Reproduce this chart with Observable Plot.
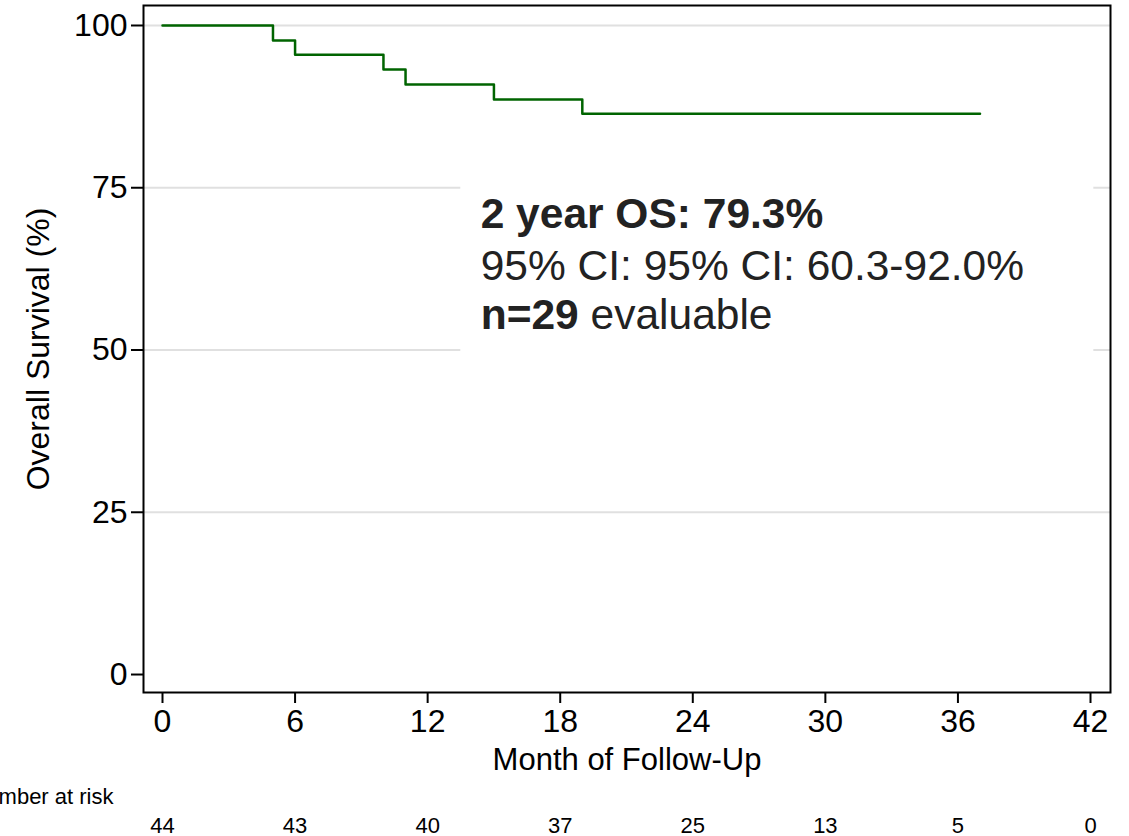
<!DOCTYPE html>
<html>
<head>
<meta charset="utf-8">
<script src="https://cdn.jsdelivr.net/npm/d3@7"></script>
<script src="https://cdn.jsdelivr.net/npm/@observablehq/plot@0.6"></script>
<style>
  html, body { margin: 0; padding: 0; background: #fff; }
  svg { display: block; }
</style>
</head>
<body>
<div id="chart"></div>
<script>
// Kaplan-Meier step data (month, survival %)
const months   = [0, 5, 6, 10, 11, 15, 19, 37];
const survival = [100, 97.7, 95.5, 93.2, 90.9, 88.6, 86.4, 86.4];

// Axis ticks
const xTicks = [0, 6, 12, 18, 24, 30, 36, 42];
const yTicks = [0, 25, 50, 75, 100];

// Number at risk at each x tick
const riskMonths = [0, 6, 12, 18, 24, 30, 36, 42];
const atRisk     = [44, 43, 40, 37, 25, 13, 5, 0];

// Annotation text
const annLines = ["2 year OS: 79.3%", "95% CI: 95% CI: 60.3-92.0%", "n=29 evaluable"];
const annX = 14.4;            // month where annotation starts
const annY = [68.8, 60.8, 53.2];
const annBox = {x1: 13.5, x2: 42.15, y1: 48.3, y2: 77.5};

const km = months.map((m, i) => ({month: m, surv: survival[i]}));
const risk = riskMonths.map((m, i) => ({month: m, n: atRisk[i]}));
const ann = annLines.map((t, i) => ({text: t, y: annY[i]}));

const FONT = "'Liberation Sans', Arial, Helvetica, sans-serif";

const chart = Plot.plot({
  width: 1129,
  height: 836,
  marginLeft: 143,
  marginRight: 19,
  marginTop: 5,
  marginBottom: 144,
  style: {fontFamily: FONT, background: "#fff", color: "#000", overflow: "visible"},
  x: {domain: [-0.86, 42.905]},
  y: {domain: [-2.77, 103.08]},
  marks: [
    Plot.ruleY(yTicks.slice(1), {stroke: "#e0e0e0", strokeWidth: 2}),
    Plot.rect([annBox], {x1: "x1", x2: "x2", y1: "y1", y2: "y2", fill: "#fff"}),
    Plot.line(km, {x: "month", y: "surv", curve: "step-after", stroke: "#006400", strokeWidth: 2.5}),
    Plot.frame({stroke: "#000", strokeWidth: 2}),
    Plot.axisY({ticks: yTicks, tickSize: 12, tickPadding: 4, fontSize: 32, strokeWidth: 2, label: null}),
    Plot.axisX({ticks: xTicks, tickSize: 11, tickPadding: 6, fontSize: 32, strokeWidth: 2, label: null}),
    Plot.text(["Overall Survival (%)"], {frameAnchor: "left", textAnchor: "middle", dx: -105, rotate: -90, fontSize: 32, fill: "#000"}),
    Plot.text(["Month of Follow-Up"], {frameAnchor: "bottom", lineAnchor: "bottom", dy: 77, fontSize: 31, fill: "#000"}),
    Plot.text(["Number at risk"], {frameAnchor: "bottom-left", lineAnchor: "bottom", textAnchor: "end", dx: -30, dy: 111, fontSize: 22, fill: "#000"}),
    Plot.text(risk, {x: "month", text: d => String(d.n), frameAnchor: "bottom", lineAnchor: "bottom", dy: 140, fontSize: 22, fill: "#000"}),
    Plot.text(ann, {x: () => annX, y: "y", text: "text", textAnchor: "start", lineAnchor: "bottom", fontSize: 42.5, fill: "#222"})
  ]
});

// Mixed-weight lines: bold first line and bold "n=29"
d3.select(chart).selectAll("text").each(function() {
  const el = d3.select(this);
  const t = el.text();
  if (t === "n=29 evaluable") {
    el.text(null);
    el.append("tspan").attr("font-weight", "bold").text("n=29");
    el.append("tspan").text(" evaluable");
  } else if (t === "2 year OS: 79.3%") {
    el.attr("font-weight", "bold");
  }
});

document.getElementById("chart").appendChild(chart);
</script>
</body>
</html>
